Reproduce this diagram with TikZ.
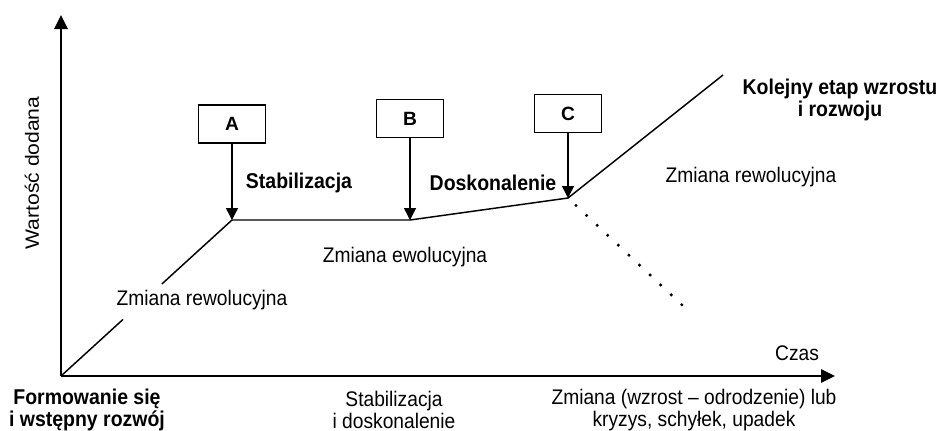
\documentclass[tikz,border=0pt]{standalone}
\usepackage{fontspec}
\setmainfont{Liberation Sans}
\usetikzlibrary{arrows.meta,calc}

\tikzset{every picture/.style={line width=1.1pt}}

\begin{document}
\begin{tikzpicture}[x=0.75pt,y=0.75pt,yscale=-1,xscale=1,
  axis/.style={line width=1.5pt,-{Triangle[length=10.5pt,width=10pt]}},
  stagebox/.style={draw,line width=1.1pt,minimum width=50pt,minimum height=28.5pt,inner sep=0pt,font=\fontsize{14.4}{15}\selectfont\bfseries},
  pointer/.style={line width=1.1pt,-{Triangle[length=9pt,width=9pt]}},
  lbl/.style={inner sep=0pt,align=center,yscale=1.1,font=\fontsize{14.4}{15}\selectfont},
  blbl/.style={lbl,font=\fontsize{14.6}{15}\selectfont\bfseries}]
\useasboundingbox (0,0) rectangle (941,430);

% axes
\coordinate (O) at (61,376);
\coordinate (ytip) at (61,15);
\coordinate (xtip) at (835,376);
\draw [axis] (O) -- (ytip);
\draw [axis] (O) -- (xtip);

% turning points of the curve
\coordinate (pA) at (232,220);
\coordinate (pB) at (410,220);
\coordinate (pC) at (568,198);
\coordinate (kend) at (723,75);
\coordinate (dotend) at (682,305);

% Boxes
\node [stagebox] (A) at (232,124) {A};
\node [stagebox] (B) at (410,118.5) {B};
\node [stagebox] (C) at (568,113.5) {C};
\draw [pointer] (A) -- (pA);
\draw [pointer] (B) -- (pB);
\draw [pointer] (C) -- (pC);

% curve
\draw (O) -- ($(O)!0.363!(pA)$);
\draw ($(O)!0.59!(pA)$) -- (pA) -- (pB) -- (pC) -- (kend);
\draw [line width=2.6pt, line cap=round, dash pattern=on 0pt off 10.88pt] ($(pC)!0.07!(dotend)$) -- (dotend);

% Text Node
\node [blbl] (stab) at (299,183) {Stabilizacja};
\node [blbl] (dosk) at (493,183) {Doskonalenie};
\node [lbl] (ewol) at (405,257) {Zmiana ewolucyjna};
\node [lbl] (rew1) at (202,300) {Zmiana rewolucyjna};
\node [lbl] (rew2) at (751,177) {Zmiana rewolucyjna};
\node [blbl] (kolejny) at (840,100) {Kolejny etap wzrostu\\i rozwoju};
\node [lbl, rotate=90] (ylab) at (32,173) {Wartość dodana};
\node [lbl] (czas) at (797,353) {Czas};
\node [blbl] (form) at (87,410) {Formowanie się\\i wstępny rozwój};
\node [lbl] (stabdosk) at (394,410) {Stabilizacja\\i doskonalenie};
\node [lbl] (zmiana) at (694,410) {Zmiana (wzrost – odrodzenie) lub\\kryzys, schyłek, upadek};

\end{tikzpicture}
\end{document}
